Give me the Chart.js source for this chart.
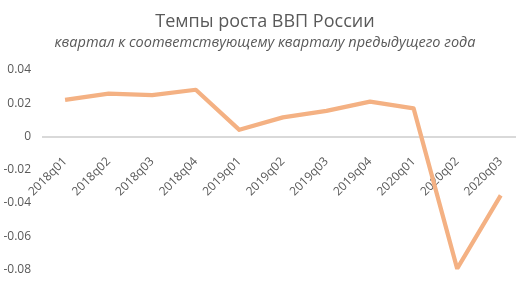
<!DOCTYPE html>
<html>
<head>
<meta charset="utf-8">
<script src="https://cdn.jsdelivr.net/npm/chart.js@4"></script>
<style>
  html, body { margin: 0; padding: 0; background: #fff; overflow: hidden; }
</style>
</head>
<body>
<canvas id="gdpChart" width="530" height="289"></canvas>
<script>
const quarters = ['2018q01', '2018q02', '2018q03', '2018q04', '2019q01', '2019q02',
  '2019q03', '2019q04', '2020q01', '2020q02', '2020q03'];
const growth = [0.022, 0.0258, 0.0249, 0.0281, 0.004, 0.0115, 0.0154, 0.021, 0.0169, -0.0795, -0.0354];
const yTicks = [-0.08, -0.06, -0.04, -0.02, 0, 0.02, 0.04];
const yTickLabels = ['-0.08', '-0.06', '-0.04', '-0.02', '0', '0.02', '0.04'];

const grey = '#595959';

new Chart(document.getElementById('gdpChart'), {
  type: 'line',
  data: {
    labels: quarters,
    datasets: [{
      data: growth,
      borderColor: '#F4B183',
      borderWidth: 4.2,
      borderJoinStyle: 'round',
      pointRadius: 0,
      tension: 0,
      fill: false,
    }],
  },
  options: {
    responsive: false,
    animation: false,
    layout: { padding: { left: 7.5, right: 7.5, top: 0, bottom: 16 } },
    plugins: {
      legend: { display: false },
      tooltip: { enabled: false },
      title: {
        display: true,
        text: 'Темпы роста ВВП России',
        color: grey,
        font: { family: 'Open Sans', size: 18, weight: 'normal' },
        padding: { top: 11, bottom: 0 },
      },
      subtitle: {
        display: true,
        text: 'квартал к соответствующему кварталу предыдущего года',
        color: grey,
        font: { family: 'Open Sans', size: 14.5, style: 'italic' },
        padding: { top: 2, bottom: 18 },
      },
    },
    scales: {
      x: {
        type: 'category',
        position: { y: 0 },
        offset: true,
        grid: { display: false, drawTicks: false },
        border: { display: true, color: '#d9d9d9', width: 2 },
        ticks: {
          autoSkip: false,
          maxRotation: 45,
          minRotation: 45,
          padding: 18,
          color: grey,
          font: { family: 'Open Sans', size: 12 },
        },
      },
      y: {
        min: -0.08,
        max: 0.04,
        grid: { display: false, drawTicks: false },
        border: { display: false },
        afterBuildTicks: axis => { axis.ticks = yTicks.map(v => ({ value: v })); },
        afterFit: axis => {
          axis.width = 35.8;
          // labels reach past the axis box on the left, so don't clip them
          axis._computeLabelArea = () => null;
        },
        ticks: {
          padding: 12.3,
          color: grey,
          font: { family: 'Open Sans', size: 12 },
          callback: v => yTickLabels[yTicks.indexOf(v)] ?? '',
        },
      },
    },
  },
});
</script>
</body>
</html>
